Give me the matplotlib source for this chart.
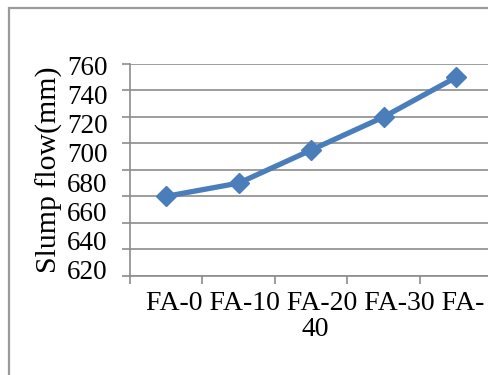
import matplotlib
matplotlib.use("Agg")
import matplotlib.pyplot as plt
from matplotlib.patches import Rectangle

# Slump flow of mixes with increasing fly-ash replacement
categories = ["FA-0", "FA-10", "FA-20", "FA-30", "FA-40"]
slump_flow = [660, 670, 695, 720, 750]
grid_values = [600, 620, 640, 660, 680, 700, 720, 740, 760]
tick_labels = [620, 640, 660, 680, 700, 720, 740, 760]

plt.rcParams["font.family"] = ["Liberation Serif", "DejaVu Serif"]

W, H = 489, 375
fig = plt.figure(figsize=(W / 100, H / 100), dpi=100)

# chart-area border
fig.patches.append(Rectangle((9 / W, -0.1), 1.2, 1 - 8 / H + 0.1,
                             transform=fig.transFigure, fill=False,
                             edgecolor="#9a9a9a", linewidth=1.6))

ax = fig.add_axes([130 / W, 1 - 275.7 / H, (492.5 - 130) / W, (275.7 - 64) / H])
x = list(range(len(categories)))
ax.plot(x, slump_flow, color="#4a7ebb", linewidth=3.8, marker="D",
        markersize=10, markerfacecolor="#4a7ebb", markeredgecolor="#4a7ebb",
        zorder=3, clip_on=False)

ax.set_xlim(-0.5, len(categories) - 0.5)
ax.set_ylim(grid_values[0], grid_values[-1])
ax.set_yticks(grid_values)
ax.set_yticklabels([])
ax.yaxis.grid(True, color="#8c8c8c", linewidth=1.2)
ax.set_axisbelow(True)
ax.tick_params(axis="y", length=6, width=1.2, color="#8c8c8c", direction="out")

ax.set_xticks(x)
ax.set_xticklabels([])
ax.tick_params(axis="x", which="major", length=0)
ax.set_xticks([i - 0.5 for i in range(len(categories) + 1)], minor=True)
ax.tick_params(axis="x", which="minor", length=6, width=1.2, color="#8c8c8c",
               direction="out")

for s in ["top", "right"]:
    ax.spines[s].set_visible(False)
for s in ["left", "bottom"]:
    ax.spines[s].set_color("#8c8c8c")
    ax.spines[s].set_linewidth(1.2)

# value labels on the left, laid out by the chart's own label spacing
ax2 = ax.twinx()
ax2.set_ylim(616.1, 760.7)
ax2.set_yticks(tick_labels)
ax2.set_yticklabels([str(v) for v in tick_labels], fontsize=19.5)
ax2.yaxis.set_ticks_position("left")
ax2.yaxis.set_label_position("left")
ax2.tick_params(axis="y", length=0, pad=16)
for s in ax2.spines.values():
    s.set_visible(False)

ax2.set_ylabel("Slump flow(mm)", fontsize=21.5, labelpad=3)

# category captions wrapped as a single centred block
caption = " ".join(categories).replace("FA-40", "FA-\n40")
fig.text(315 / W, 1 - 291 / H, caption, ha="center", va="top", fontsize=20,
         linespacing=1.05)

fig.savefig("out.png", dpi=100)
